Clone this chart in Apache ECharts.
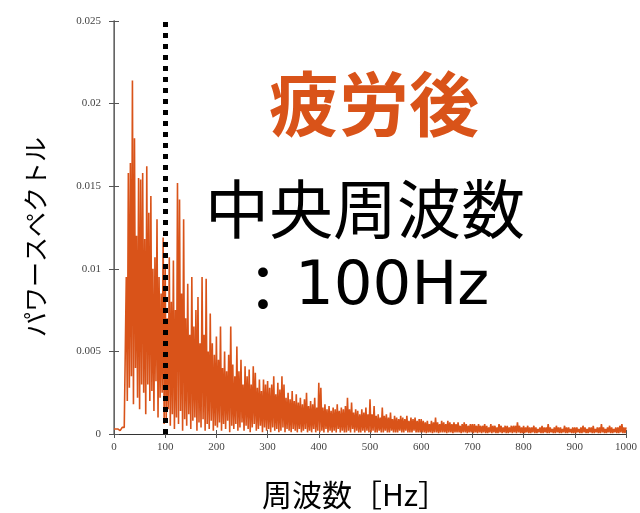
<!DOCTYPE html>
<html>
<head>
<meta charset="utf-8">
<script src="https://cdn.jsdelivr.net/npm/echarts@6/dist/echarts.min.js"></script>
<style>
  html, body { margin: 0; padding: 0; background: #fff; }
  #chart { width: 640px; height: 513px; }
</style>
</head>
<body>
<div id="chart"></div>
<script>
// Power spectrum after fatigue, sampled every 2 Hz from 0 to 1000 Hz.
// Values are stored in units of 1e-4 (so 0.025 -> 250).
const FREQ_STEP = 2;
const POWER_UNIT = 1e-4;
const CENTER_FREQ = 100;

const band000 = [3, 2, 3, 2, 3, 3, 2, 3, 4, 3, 4, 5,
  95, 20, 158, 28, 164, 35, 214, 18, 179, 40, 120, 22, 155, 15, 154, 30, 158, 25,
  118, 12, 162, 30, 134, 20, 144, 26, 100, 14, 107, 32, 130, 10, 95, 22, 85, 25, 119, 6, 101];
const band100 = [8, 70, 15, 107, 5, 80, 12, 105, 3, 75, 10, 152, 6, 142, 14, 85, 2, 130, 9, 70,
  5, 91, 12, 60, 3, 95, 8, 65, 10, 75, 2, 83, 7, 55, 4, 95, 9, 60, 2, 94,
  6, 50, 3, 73, 8, 55, 2, 48, 5, 59];
const band200 = [4, 45, 7, 65, 2, 40, 6, 50, 3, 38, 8, 48, 1, 65, 5, 42, 3, 35, 6, 53,
  2, 38, 4, 45, 7, 30, 2, 41, 5, 35, 3, 39, 1, 30, 4, 41, 6, 37, 2, 28,
  3, 33, 5, 26, 1, 33, 4, 30, 2, 32];
const band300 = [3, 28, 1, 30, 4, 35, 2, 24, 3, 31, 1, 27, 2, 35, 4, 30, 1, 22, 3, 25,
  2, 21, 1, 26, 3, 20, 2, 24, 1, 19, 3, 22, 1, 18, 2, 21, 3, 25, 1, 17,
  2, 20, 1, 18, 3, 22, 1, 16, 2, 31];
const band400 = [1, 28, 2, 16, 1, 18, 3, 15, 1, 17, 2, 14, 1, 16, 2, 15, 1, 18, 3, 14,
  1, 16, 2, 15, 1, 17, 1, 22, 2, 15, 1, 19, 3, 13, 1, 15, 2, 14, 1, 12,
  1, 15, 2, 13, 1, 16, 2, 12, 1, 21];
const band500 = [1, 12, 2, 17, 1, 11, 1, 12, 2, 10, 1, 16, 1, 11, 2, 12, 1, 10, 1, 13,
  2, 9, 1, 11, 1, 10, 1, 9, 2, 11, 1, 10, 1, 9, 2, 11, 1, 8, 1, 10,
  1, 9, 2, 10, 1, 8, 1, 9, 1, 9];
const band600 = [1, 8, 1, 7, 0.5, 8, 1, 6, 1, 8, 0.5, 7, 1, 10, 1, 7, 0.5, 6, 1, 8,
  1, 7, 1, 6, 0.5, 8, 1, 7, 1, 6, 0.5, 7, 1, 6, 1, 7, 1, 5, 0.5, 6,
  1, 7, 1, 6, 0.5, 5, 1, 6, 1, 6];
const band700 = [0.5, 6, 1, 5, 0.5, 6, 1, 5, 0.5, 5, 1, 6, 0.5, 5, 0.5, 4, 1, 6, 0.5, 5,
  1, 5, 0.5, 4, 0.5, 6, 1, 5, 0.5, 4, 1, 5, 0.5, 5, 0.5, 4, 1, 5, 0.5, 5,
  1, 5, 0.5, 7, 1, 5, 0.5, 4, 0.5, 5];
const band800 = [0.5, 4, 1, 5, 0.5, 4, 0.5, 4, 1, 5, 0.5, 4, 0.5, 3, 1, 4, 0.5, 5, 0.5, 4,
  1, 4, 0.5, 6, 0.5, 4, 1, 3, 0.5, 4, 0.5, 5, 1, 4, 0.5, 4, 0.5, 3, 1, 5,
  0.5, 4, 0.5, 4, 1, 3, 0.5, 4, 0.5, 4];
const band900 = [0.5, 4, 1, 3, 0.5, 4, 0.5, 5, 1, 4, 0.5, 3, 0.5, 4, 1, 4, 0.5, 5, 0.5, 3,
  1, 4, 0.5, 4, 0.5, 6, 1, 4, 0.5, 3, 0.5, 4, 1, 5, 0.5, 4, 0.5, 3, 1, 4,
  0.5, 4, 0.5, 5, 1, 6, 0.5, 4, 0.5, 4];

const xTicks = [0, 100, 200, 300, 400, 500, 600, 700, 800, 900, 1000];
const yTicks = ['0', '0.005', '0.01', '0.015', '0.02', '0.025'];

const power = [].concat(band000, band100, band200, band300, band400,
  band500, band600, band700, band800, band900);
const spectrum = power.map((v, i) => [i * FREQ_STEP, v * POWER_UNIT]);

const ORANGE = '#D95319';
const SERIF = '"Liberation Serif", "DejaVu Serif", serif';
const JP = '"Noto Sans CJK JP", "Noto Sans", sans-serif';
const LATIN = '"DejaVu Sans", "Noto Sans", sans-serif';

const axisLabelStyle = { color: '#444', fontFamily: SERIF, fontSize: 11 };
const frameLine = { show: true, lineStyle: { color: '#333', width: 1 } };

const chart = echarts.init(document.getElementById('chart'), null, { renderer: 'canvas' });
chart.setOption({
  animation: false,
  backgroundColor: '#fff',
  grid: { left: 114, right: 4, top: 21, bottom: 79, containLabel: false },
  xAxis: [
    {
      type: 'value', min: xTicks[0], max: xTicks[xTicks.length - 1], interval: 100,
      axisLine: frameLine,
      axisTick: { show: true, inside: true, length: 4, lineStyle: { color: '#555' } },
      axisLabel: Object.assign({ margin: 8, formatter: v => String(v) }, axisLabelStyle),
      splitLine: { show: false }
    },
    {
      type: 'value', position: 'top', min: 0, max: 1000, interval: 100,
      axisLine: frameLine,
      axisTick: { show: true, inside: true, length: 4, lineStyle: { color: '#555' } },
      axisLabel: { show: false }, splitLine: { show: false }
    }
  ],
  yAxis: [
    {
      type: 'value', min: 0, max: 0.025, interval: 0.005,
      axisLine: frameLine,
      axisTick: { show: true, inside: true, length: 5, lineStyle: { color: '#555' } },
      axisLabel: Object.assign({
        margin: 13,
        formatter: v => yTicks[Math.round(v / 0.005)]
      }, axisLabelStyle),
      splitLine: { show: false }
    },
    {
      type: 'value', position: 'right', min: 0, max: 0.025, interval: 0.005,
      axisLine: { show: true, lineStyle: { color: '#777', width: 1.5 } },
      axisTick: { show: true, inside: true, length: 5, lineStyle: { color: '#555' } },
      axisLabel: { show: false }, splitLine: { show: false }
    }
  ],
  series: [
    {
      type: 'line',
      data: spectrum,
      showSymbol: false,
      sampling: false,
      lineStyle: { color: ORANGE, width: 1.6 },
      itemStyle: { color: ORANGE },
      markLine: {
        silent: true,
        symbol: 'none',
        label: { show: false },
        lineStyle: { color: '#000', width: 5, type: [5, 6], cap: 'butt' },
        data: [{ xAxis: CENTER_FREQ }]
      }
    }
  ],
  graphic: [
    {
      type: 'text', x: 374, y: 104,
      style: { text: '疲労後', fill: ORANGE, font: 'bold 70px ' + JP, textAlign: 'center', textVerticalAlign: 'middle' }
    },
    {
      type: 'text', x: 365, y: 209,
      style: { text: '中央周波数', fill: '#000', font: '64px ' + JP, textAlign: 'center', textVerticalAlign: 'middle' }
    },
    {
      type: 'text', x: 231, y: 288,
      style: {
        text: '{c|：}{n|' + CENTER_FREQ + 'Hz}',
        textAlign: 'left', textVerticalAlign: 'middle',
        rich: {
          c: { fill: '#000', font: '64px ' + JP },
          n: { fill: '#000', font: '61px ' + LATIN }
        }
      }
    },
    {
      type: 'text', x: 35, y: 237, rotation: Math.PI / 2,
      style: { text: 'パワースペクトル', fill: '#000', font: '25px ' + JP, textAlign: 'center', textVerticalAlign: 'middle' }
    },
    {
      type: 'text', x: 355, y: 495,
      style: { text: '周波数［Hz］', fill: '#000', font: '30px ' + JP, textAlign: 'center', textVerticalAlign: 'middle' }
    }
  ]
});
</script>
</body>
</html>
